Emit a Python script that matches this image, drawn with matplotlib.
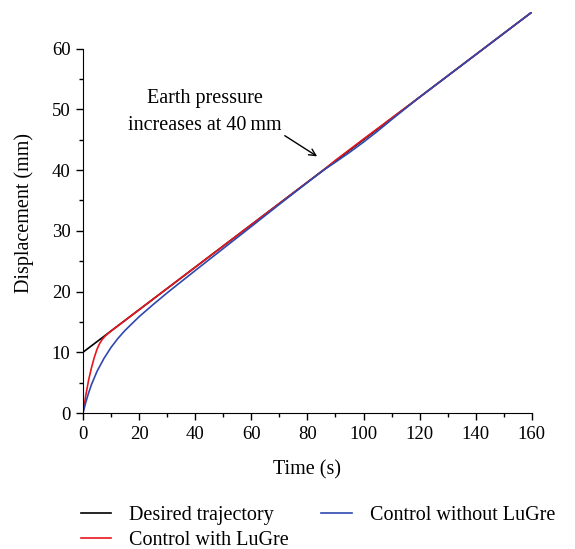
import matplotlib
matplotlib.use("Agg")
import matplotlib.pyplot as plt
from matplotlib.ticker import MultipleLocator

plt.rcParams['font.family'] = ['Liberation Serif', 'DejaVu Serif']

# Desired trajectory
t_desired = [0, 160]
y_desired = [10, 66]

# Control with LuGre
t_with = [0, 1, 2, 3, 4, 5, 6, 7, 8, 9, 10, 12, 15, 20, 40, 60, 80, 86, 90, 95, 100, 110, 120, 140, 160]
y_with = [0, 2.9, 5.4, 7.4, 9.1, 10.5, 11.5, 12.2, 12.7, 13.1, 13.5, 14.2, 15.25, 17.0, 24.0, 31.0,
          38.0, 40.1, 41.6, 43.35, 45.1, 48.55, 52.0, 59.0, 66.0]

# Control without LuGre
t_without = [0, 1, 2, 3, 5, 7.5, 10, 12.5, 15, 20, 25, 30, 40, 50, 60, 70, 80, 86, 90, 95, 100,
             105, 110, 120, 140, 160]
y_without = [0, 1.75, 3.3, 4.65, 6.85, 9.0, 10.8, 12.3, 13.6, 15.85, 17.85, 19.78, 23.45, 27.08, 30.7,
             34.35, 37.95, 40.05, 41.3, 42.9, 44.6, 46.4, 48.3, 52.0, 59.0, 66.0]

xticks = [0, 20, 40, 60, 80, 100, 120, 140, 160]
yticks = [0, 10, 20, 30, 40, 50, 60]

fig = plt.figure(figsize=(5.75, 5.49), dpi=100)
ax = fig.add_axes([0.1443, 0.2477, 0.7807, 0.7303])

ax.plot(t_desired, y_desired, color='black', lw=1.2, label='Desired trajectory')
ax.plot(t_with, y_with, color='#e8161e', lw=1.2, label='Control with LuGre')
ax.plot(t_without, y_without, color='#2f48b0', lw=1.2, label='Control without LuGre')

ax.set_xlim(0, 160)
ax.set_ylim(0, 66)
ax.set_xticks(xticks)
ax.set_yticks(yticks)
ax.xaxis.set_minor_locator(MultipleLocator(10))
ax.set_yticks([v for v in range(0, 61, 5)], minor=True)
ax.tick_params(which='major', direction='out', length=5, width=1, labelsize=13.5, pad=4)
ax.tick_params(which='minor', direction='out', length=3, width=1)
for s in ['top', 'right']:
    ax.spines[s].set_visible(False)
ax.spines['left'].set_bounds(0, 60)

ax.set_xlabel('Time (s)', fontsize=14.5, labelpad=13)
ax.set_ylabel('Displacement (mm)', fontsize=14.5, labelpad=13)

ax.text(43.4, 49.6, 'Earth pressure\nincreases at 40\u2009mm', ha='center', va='center',
        fontsize=14.5, linespacing=1.6)
ax.annotate('', xy=(84.3, 42.0), xytext=(71.1, 45.9),
            arrowprops=dict(arrowstyle='->', color='black', lw=1, mutation_scale=12))

h, l = ax.get_legend_handles_labels()
fig.legend(h, l, loc='upper left', bbox_to_anchor=(0.141, 0.079), ncol=2, frameon=False,
           fontsize=14.5, handlelength=1.5, columnspacing=1.6, labelspacing=0.3,
           handletextpad=0.9, borderaxespad=0, borderpad=0)

fig.savefig('out.png', dpi=100)
